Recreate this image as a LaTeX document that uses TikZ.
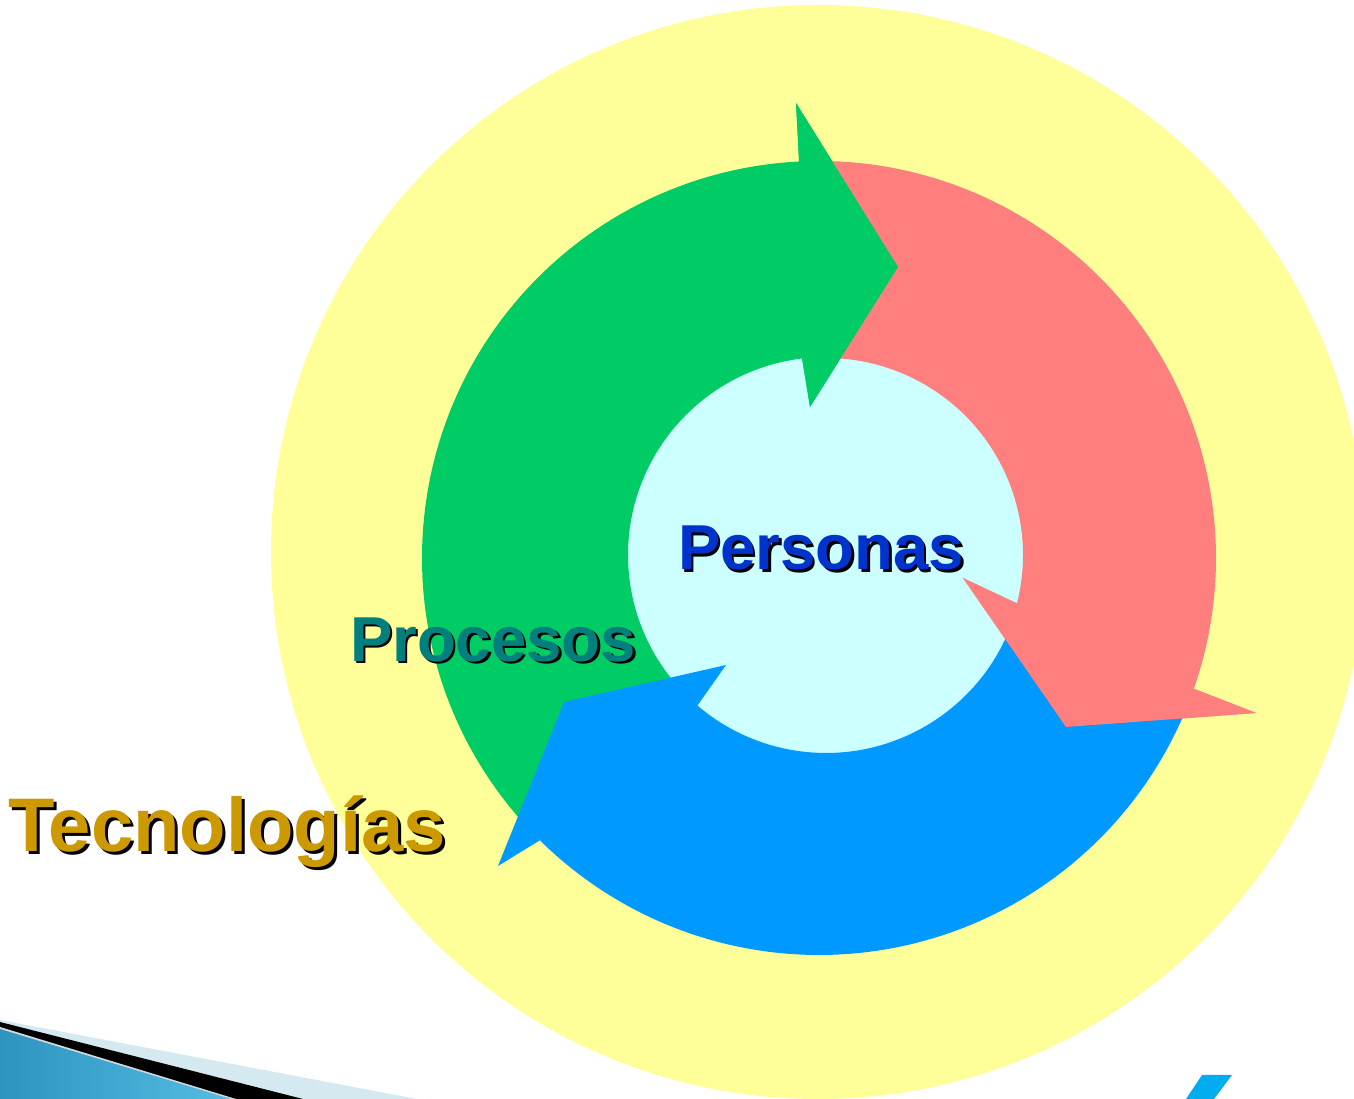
\documentclass[tikz,border=0pt]{standalone}
\usepackage{fontspec}
\setmainfont{Liberation Sans}
\usetikzlibrary{calc}
\definecolor{yel}{HTML}{FFFF99}
\definecolor{cyn}{HTML}{CCFFFF}
\definecolor{grn}{HTML}{00CC66}
\definecolor{rd}{HTML}{FF7F7F}
\definecolor{bl}{HTML}{0099FF}
\definecolor{txtblue}{HTML}{0033CC}
\definecolor{txtteal}{HTML}{007F7F}
\definecolor{txtgold}{HTML}{CC9900}
\definecolor{lightband}{HTML}{D5E9F1}
\definecolor{bandA}{HTML}{2C94BE}
\definecolor{bandB}{HTML}{55BCE2}
\definecolor{accent}{HTML}{00AEEF}
\tikzset{
  lbl/.style={inner sep=0pt, anchor=base},
  fnormal/.style={font=\bfseries\fontsize{63.5}{63.5}\selectfont},
  fbig/.style={font=\bfseries\fontsize{76}{76}\selectfont},
}
\begin{document}
\begin{tikzpicture}[x=1pt,y=1pt]
\useasboundingbox (0,0) rectangle (1354,1099);
\clip (0,0) rectangle (1354,1099);
\fill[white] (0,0) rectangle (1354,1099);
% big yellow disc
\fill[yel] (818,547) circle[radius=547pt];
% centres
\coordinate (co) at (819,541);
\coordinate (ci) at (826,544);
% cyan core
\fill[cyn] (ci) circle[radius=205pt];
% green arrow
\fill[grn] ($(co)+(222:397pt)$) arc[start angle=222,end angle=92.9,radius=397pt]
  -- (799,939) -- (796,996) -- (898,832) -- (810,692) -- (802,741)
  -- ($(ci)+(96.9:198pt)$) arc[start angle=96.9,end angle=222,radius=198pt] -- cycle;
% red arrow
\fill[rd] ($(co)+(90:397pt)$) arc[start angle=90,end angle=-19.2,radius=397pt]
  -- (1192,411) -- (1256,386) -- (1066,372) -- (963,521) -- (1016,496)
  -- ($(ci)+(-14.2:197pt)$) arc[start angle=-14.2,end angle=90,radius=197pt] -- cycle;
% blue arrow
\fill[bl] ($(co)+(-22:397pt)$) arc[start angle=-22,end angle=-134.6,radius=397pt]
  -- (542,260) -- (498,233) -- (564,397) -- (726,434) -- (695,390)
  -- ($(ci)+(-130.4:198pt)$) arc[start angle=-130.4,end angle=-22,radius=198pt] -- cycle;
% heads redrawn on top
\fill[grn] (799,939) -- (796,996) -- (898,832) -- (810,692) -- (802,741) -- cycle;
\fill[rd] (1192,411) -- (1256,386) -- (1066,372) -- (963,521) -- (1016,496) -- cycle;
% labels (shadow first, then coloured text)
\node[lbl, fnormal, text=black] (personas-sh) at (823.5,526.5) {Personas};
\node[lbl, fnormal, text=txtblue] (personas) at (821,529) {Personas};
\node[lbl, fnormal, text=black] (procesos-sh) at (495.5,435) {Procesos};
\node[lbl, fnormal, text=txtteal] (procesos) at (493,437.5) {Procesos};
\node[lbl, fbig, text=black] (tecno-sh) at (230,244.5) {Tecnologías};
\node[lbl, fbig, text=txtgold] (tecno) at (227,247.5) {Tecnologías};
% bottom-left band
\fill[lightband] (0,79) -- (417,0) -- (0,0) -- cycle;
\fill[black] (0,77) -- (303,0) -- (0,0) -- cycle;
\fill[gray!30] (0,72) -- (236,0) -- (0,0) -- cycle;
\shade[left color=bandA, right color=bandB] (0,70) -- (231,0) -- (0,0) -- cycle;
% bottom-right accent
\fill[accent] (1202,24) -- (1232,24) -- (1214,0) -- (1186,0) -- cycle;
\end{tikzpicture}
\end{document}
